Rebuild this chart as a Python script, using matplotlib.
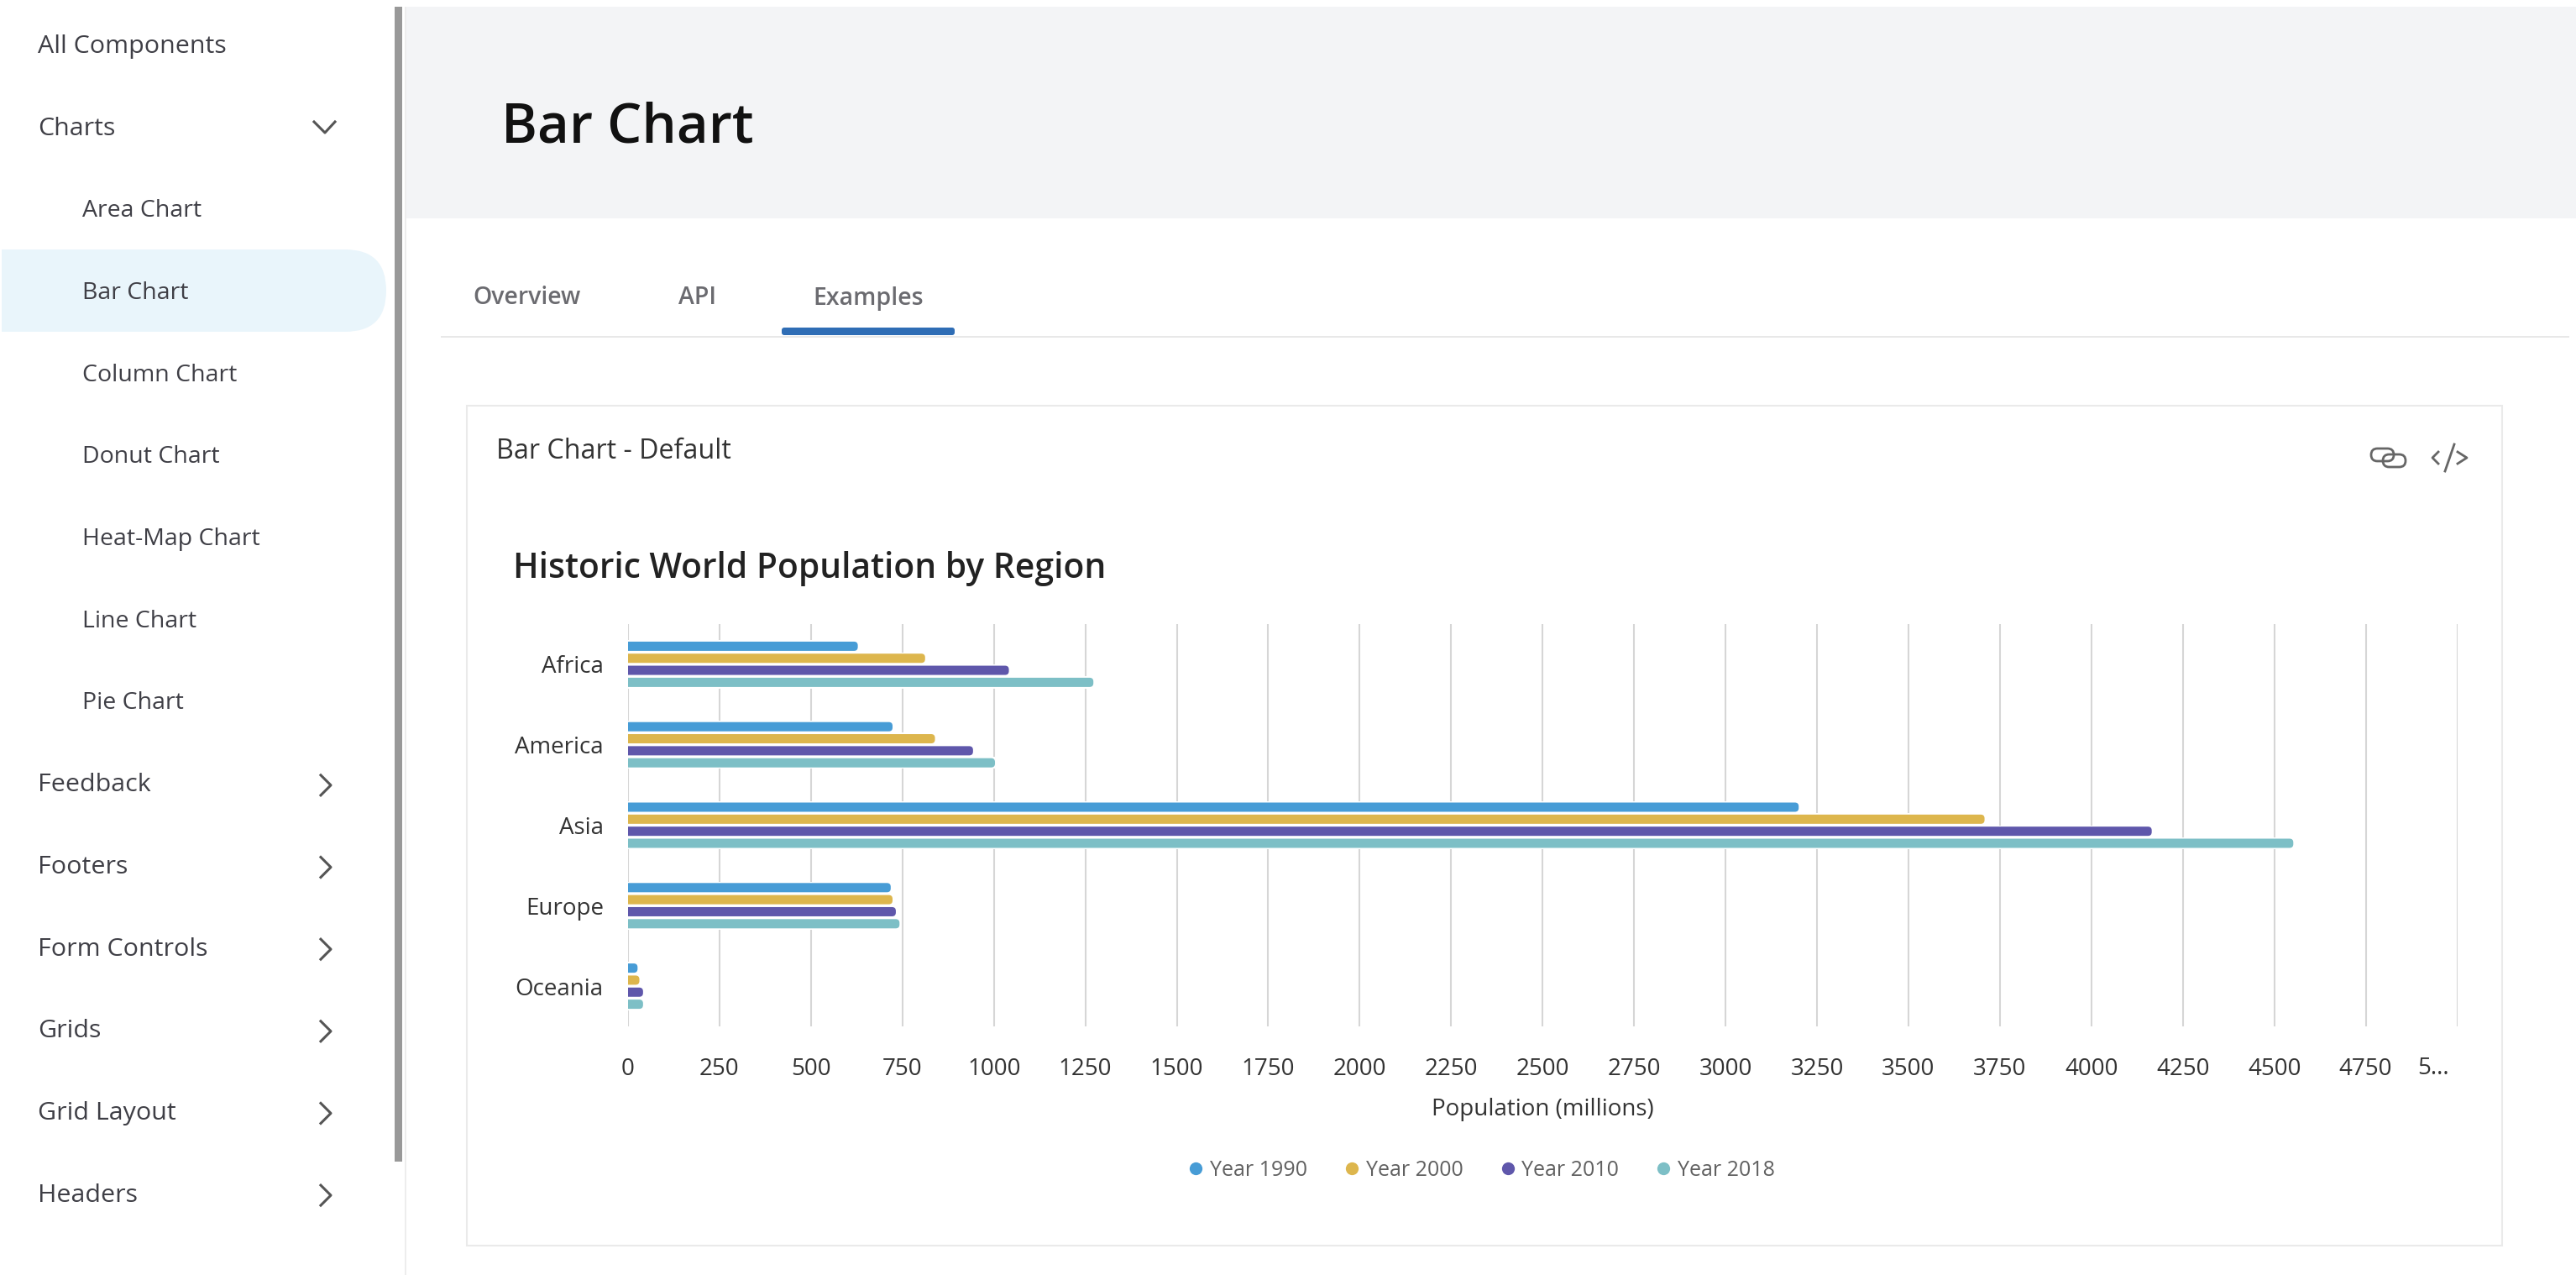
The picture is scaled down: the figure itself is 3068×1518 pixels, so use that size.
import matplotlib
matplotlib.use('Agg')
import matplotlib.pyplot as plt
from matplotlib.lines import Line2D
from matplotlib.patches import FancyBboxPatch, Rectangle

plt.rcParams['font.family'] = ['Open Sans', 'DejaVu Sans']

# Chart data (population in millions)
regions = ['Africa', 'America', 'Asia', 'Europe', 'Oceania']
years = ['Year 1990', 'Year 2000', 'Year 2010', 'Year 2018']
year_1990 = [628, 723, 3200, 718, 26]
year_2000 = [812, 839, 3708, 723, 31]
year_2010 = [1041, 943, 4165, 732, 41]
year_2018 = [1272, 1003, 4552, 742, 41]
series = [year_1990, year_2000, year_2010, year_2018]
colors = ['#479CD6', '#DDB64D', '#5F57AB', '#7DBFC6']
x_ticks = list(range(0, 5001, 250))
x_labels = [str(t) for t in x_ticks[:-1]] + ['']

# Page furniture
nav_top = ['All Components', 'Charts']
nav_charts = ['Area Chart', 'Bar Chart', 'Column Chart', 'Donut Chart', 'Heat-Map Chart', 'Line Chart', 'Pie Chart']
nav_bottom = ['Feedback', 'Footers', 'Form Controls', 'Grids', 'Grid Layout', 'Headers']
tabs = ['Overview', 'API', 'Examples']
tab_x = [563, 808, 968]

W, H = 3068, 1518
fig = plt.figure(figsize=(W / 100, H / 100), dpi=100, facecolor='white')

# Background axes in pixel coordinates for the page around the chart
bg = fig.add_axes([0, 0, 1, 1])
bg.set_xlim(0, W)
bg.set_ylim(H, 0)
bg.axis('off')

TEXT = '#3F3F46'
bg.add_patch(Rectangle((484, 8), 2584, 252, color='#F3F4F6', lw=0))
bg.add_patch(Rectangle((470, 8), 9, 1375, color='#999999', lw=0))
bg.add_patch(Rectangle((482, 8), 2, 1510, color='#EDEDED', lw=0))
bg.add_patch(FancyBboxPatch((2, 297), 458, 98, boxstyle='round,pad=0,rounding_size=49', color='#E9F5FB', lw=0))
bg.add_patch(Rectangle((2, 297), 60, 98, color='#E9F5FB', lw=0))

# Sidebar
y = 56
for name in nav_top:
    bg.text(45, y, name, fontsize=21.9, color=TEXT, va='center')
    y += 97.65
for name in nav_charts:
    bg.text(98, y, name, fontsize=20.5, color=TEXT, va='center')
    y += 97.65
for name in nav_bottom:
    bg.text(45, y, name, fontsize=21.9, color=TEXT, va='center')
    bg.plot([382, 394, 382], [y - 12, y, y + 12], color='#555555', lw=2.2)
    y += 97.65
bg.plot([374, 387, 399], [145, 158, 145], color='#555555', lw=2.2)

# Header and tabs
bg.text(597, 153, 'Bar Chart', fontsize=47, fontweight=600, color='#111111', va='center')
for name, x in zip(tabs, tab_x):
    bg.text(x, 355, name, fontsize=20.5, fontweight=600, color='#6B6B70', va='center')
bg.add_patch(Rectangle((525, 400), 2535, 2, color='#E8E8E8', lw=0))
bg.add_patch(FancyBboxPatch((931, 390), 206, 9, boxstyle='round,pad=0,rounding_size=3', color='#2F6DB5', lw=0))

# Card
bg.add_patch(Rectangle((556, 483), 2424, 1000, facecolor='white', edgecolor='#EAEAEA', lw=1.5))
bg.text(591, 537, 'Bar Chart - Default', fontsize=23.2, color='#333333', va='center')
bg.text(611, 677, 'Historic World Population by Region', fontsize=29.3, fontweight=600, color='#222222', va='center')

# Card icons
bg.add_patch(FancyBboxPatch((2824, 534), 27, 15, boxstyle='round,pad=0,rounding_size=7.5', fill=False, edgecolor='#666666', lw=2))
bg.add_patch(FancyBboxPatch((2838, 541), 27, 15, boxstyle='round,pad=0,rounding_size=7.5', fill=False, edgecolor='#666666', lw=2))
bg.plot([2904, 2897, 2904], [538, 545, 552], color='#666666', lw=2)
bg.plot([2923, 2912], [529, 561], color='#666666', lw=2)
bg.plot([2927, 2938, 2927], [538, 545, 552], color='#666666', lw=2)

# Chart axes, placed so that 0 and 5000 land on the reference's gridlines
left, right, top, bottom = 748, 2926.5, 743, 1222
ax = fig.add_axes([left / W, 1 - bottom / H, (right - left) / W, (bottom - top) / H])
ax.patch.set_alpha(0)
ax.set_xlim(0, 5000)
ax.set_ylim(5, 0)
for spine in ax.spines.values():
    spine.set_visible(False)

px_x = 5000 / (right - left)
px_y = 5 / (bottom - top)
slot = 14.33 * px_y
bar_h = 11 * px_y
round_x = 4.5 * px_x
round_y = 4.5 * px_y

ax.set_axisbelow(True)
ax.grid(axis='x', color='#D6D6D6', lw=1.5)
ax.set_xticks(x_ticks)
ax.set_xticklabels(x_labels, fontsize=20, color='#333333')
ax.set_yticks([i + 0.5 for i in range(len(regions))])
ax.set_yticklabels(regions, fontsize=20, color='#333333')
ax.tick_params(axis='both', length=0)
ax.tick_params(axis='x', pad=27)
ax.tick_params(axis='y', pad=21)
ax.set_xlabel('Population (millions)', fontsize=20, color='#333333', labelpad=14)

for s, (values, color) in enumerate(zip(series, colors)):
    offset = (s - 1.5) * slot
    centers = [i + 0.5 + offset for i in range(len(regions))]
    # white band behind each bar hides the gridlines, as in the reference
    ax.barh(centers, values, height=slot, color='white', lw=0, zorder=2)
    for c, v in zip(centers, values):
        # start left of zero so only the right end shows rounded
        ax.add_patch(FancyBboxPatch((-round_x * 2, c - bar_h / 2), v + round_x * 2, bar_h,
                                    boxstyle=f'round,pad=0,rounding_size={round_x}',
                                    mutation_aspect=round_y / round_x,
                                    facecolor=color, edgecolor='none', zorder=3))

bg.text(2898, 1272, '5...', fontsize=20, color='#333333', ha='center', va='center')

handles = [Line2D([], [], ls='', marker='o', ms=11, color=c, mew=0) for c in colors]
fig.legend(handles, years, loc='center', bbox_to_anchor=(1765 / W, 1 - 1393 / H), ncol=4,
           frameon=False, fontsize=18, labelcolor='#606060',
           handlelength=0.64, handletextpad=0.36, columnspacing=1.8)

fig.savefig('out.png', dpi=100)
